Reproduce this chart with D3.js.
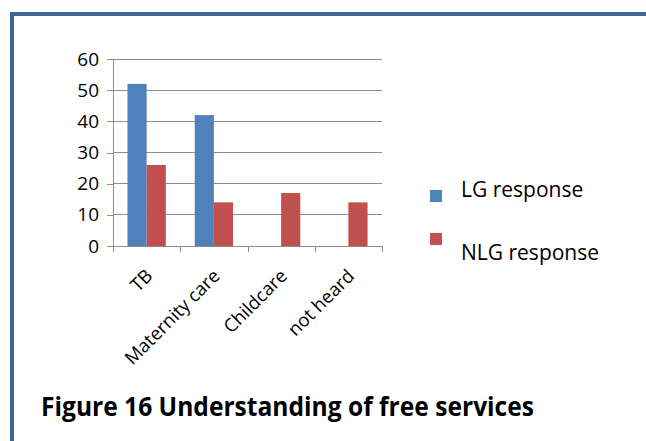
<!DOCTYPE html>
<html><head><meta charset="utf-8">
<script src="https://cdn.jsdelivr.net/npm/d3@7"></script>
<style>body{margin:0;background:#fff}svg{display:block}</style>
</head><body>
<script>
const categories = ["TB", "Maternity care", "Childcare", "not heard"];
const seriesNames = ["LG response", "NLG response"];
const lgValues = [52, 42, 0, 0];
const nlgValues = [26, 14, 17, 14];
const yTicks = [0, 10, 20, 30, 40, 50, 60];
const colors = ["#4f81bd", "#c0504d"];
const title = "Figure 16 Understanding of free services";

const W = 646, H = 441;
const svg = d3.select("body").append("svg").attr("width", W).attr("height", H);
const font = "'Open Sans', Calibri, sans-serif";

// outer frame
svg.append("rect").attr("x", 12).attr("y", 14).attr("width", 700).attr("height", 500)
  .attr("fill", "none").attr("stroke", "#3e6496").attr("stroke-width", 4);

const x0 = 113, x1 = 382, yTop = 59, yBot = 246;
const x = d3.scaleBand().domain(categories).range([x0, x1]).paddingInner(0.43).paddingOuter(0.215);
const xs = d3.scaleBand().domain(seriesNames).range([0, x.bandwidth()]);
const y = d3.scaleLinear().domain([0, 60]).range([yBot, yTop]);

// gridlines
svg.append("g").selectAll("line").data(yTicks.filter(d => d > 0)).join("line")
  .attr("x1", x0).attr("x2", x1).attr("y1", d => y(d)).attr("y2", d => y(d))
  .attr("stroke", "#8c8c8c").attr("stroke-width", 1).attr("shape-rendering", "crispEdges");

// y axis
const yAxis = svg.append("g").attr("transform", `translate(${x0},0)`)
  .call(d3.axisLeft(y).tickValues(yTicks).tickSize(6).tickPadding(8));
yAxis.select(".domain").attr("stroke", "#8c8c8c").attr("shape-rendering", "crispEdges");
yAxis.selectAll(".tick line").attr("stroke", "#8c8c8c").attr("shape-rendering", "crispEdges");
yAxis.selectAll("text").attr("font-family", font).attr("font-size", 19).attr("fill", "#000");

// bars
const data = categories.map((c, i) => ({c, vals: [lgValues[i], nlgValues[i]]}));
const g = svg.append("g");
data.forEach(d => {
  d.vals.forEach((v, j) => {
    if (v <= 0) return;
    g.append("rect")
      .attr("x", x(d.c) + xs(seriesNames[j]))
      .attr("y", y(v))
      .attr("width", xs.bandwidth())
      .attr("height", y(0) - y(v))
      .attr("fill", colors[j]);
  });
});

// x axis
const xEdge = d3.scaleLinear().domain([0, categories.length]).range([x0, x1]);
const xAxisG = svg.append("g");
xAxisG.append("line").attr("x1", x0).attr("x2", x1).attr("y1", yBot + 0.5).attr("y2", yBot + 0.5)
  .attr("stroke", "#8c8c8c");
xAxisG.selectAll("line.t").data(d3.range(categories.length + 1)).join("line").attr("class", "t")
  .attr("x1", d => Math.round(xEdge(d)) + 0.5).attr("x2", d => Math.round(xEdge(d)) + 0.5)
  .attr("y1", yBot).attr("y2", yBot + 6).attr("stroke", "#8c8c8c");
xAxisG.selectAll("text").data(categories).join("text")
  .attr("transform", d => `translate(${x(d) + x.bandwidth() / 2 - 2},${yBot + 22}) rotate(-45)`)
  .attr("text-anchor", "end").attr("dy", "0.7em")
  .attr("font-family", font).attr("font-size", 18.5).attr("fill", "#000")
  .text(d => d);

// legend
const leg = svg.append("g");
const legY = [190, 233];
const legTextY = [197, 260];
seriesNames.forEach((s, i) => {
  leg.append("rect").attr("x", 430).attr("y", legY[i]).attr("width", 12).attr("height", 12).attr("fill", colors[i]);
  leg.append("text").attr("x", 461).attr("y", legTextY[i]).attr("font-family", font)
    .attr("font-size", 21).attr("fill", "#000").text(s);
});

// title
svg.append("text").attr("x", 41).attr("y", 416).attr("font-family", font)
  .attr("font-weight", "bold").attr("font-size", 27).attr("fill", "#000")
  .attr("textLength", 493).attr("lengthAdjust", "spacingAndGlyphs").text(title);
</script>
</body></html>
